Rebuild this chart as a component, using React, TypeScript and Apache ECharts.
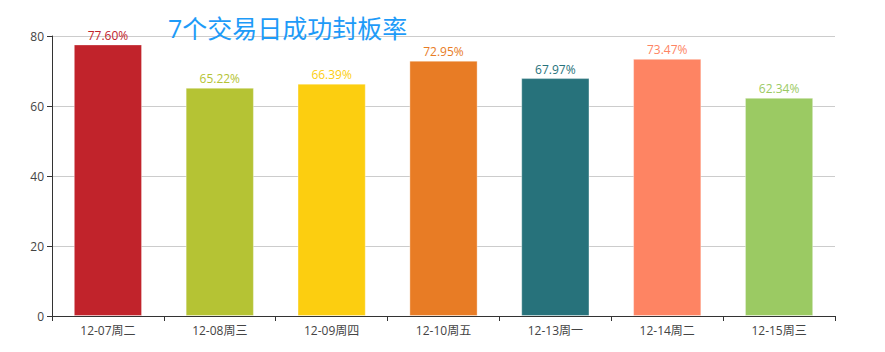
import React, { useEffect, useRef } from "react";
import * as echarts from "echarts";

const categories = ["12-07周二", "12-08周三", "12-09周四", "12-10周五", "12-13周一", "12-14周二", "12-15周三"];
const values = [77.6, 65.22, 66.39, 72.95, 67.97, 73.47, 62.34];
const colors = ["#C1232B", "#B5C334", "#FCCE10", "#E87C25", "#27727B", "#FE8463", "#9BCA63"];
const yTicks = { min: 0, max: 80, interval: 20 };
const titleText = "7个交易日成功封板率";

const FONT = "'Open Sans', 'Noto Sans CJK SC', sans-serif";

export default function App() {
  const ref = useRef<HTMLDivElement>(null);
  useEffect(() => {
    document.body.style.margin = "0";
    const chart = echarts.init(ref.current!, undefined, { renderer: "svg" });
    chart.setOption({
      animation: false,
      textStyle: { fontFamily: FONT },
      title: {
        text: titleText,
        left: 163,
        top: 10,
        textStyle: { color: "#1E9BF8", fontSize: 25, fontWeight: "normal", fontFamily: FONT },
      },
      grid: { left: 52, right: 50, top: 36, bottom: 36 },
      xAxis: {
        type: "category",
        data: categories,
        axisLine: { lineStyle: { color: "#333" } },
        axisTick: { show: true, alignWithLabel: false, lineStyle: { color: "#333" } },
        axisLabel: { color: "#444", fontSize: 12, margin: 8 },
      },
      yAxis: {
        type: "value",
        min: yTicks.min,
        max: yTicks.max,
        interval: yTicks.interval,
        axisLine: { show: true, lineStyle: { color: "#333" } },
        axisTick: { show: true, lineStyle: { color: "#333" } },
        axisLabel: { color: "#444", fontSize: 12 },
        splitLine: { lineStyle: { color: "#ccc" } },
      },
      series: [
        {
          type: "bar",
          barWidth: "61%",
          data: values.map((v, i) => ({
            value: v,
            itemStyle: { color: colors[i], borderColor: "rgba(255,255,255,0.35)", borderWidth: 1 },
            label: { color: colors[i] },
          })),
          label: {
            show: true,
            position: "top",
            fontSize: 12,
            distance: 3,
            formatter: (p: any) => p.value.toFixed(2) + "%",
          },
        },
      ],
    });
    return () => chart.dispose();
  }, []);
  return <div ref={ref} style={{ width: 885, height: 352 }} />;
}
